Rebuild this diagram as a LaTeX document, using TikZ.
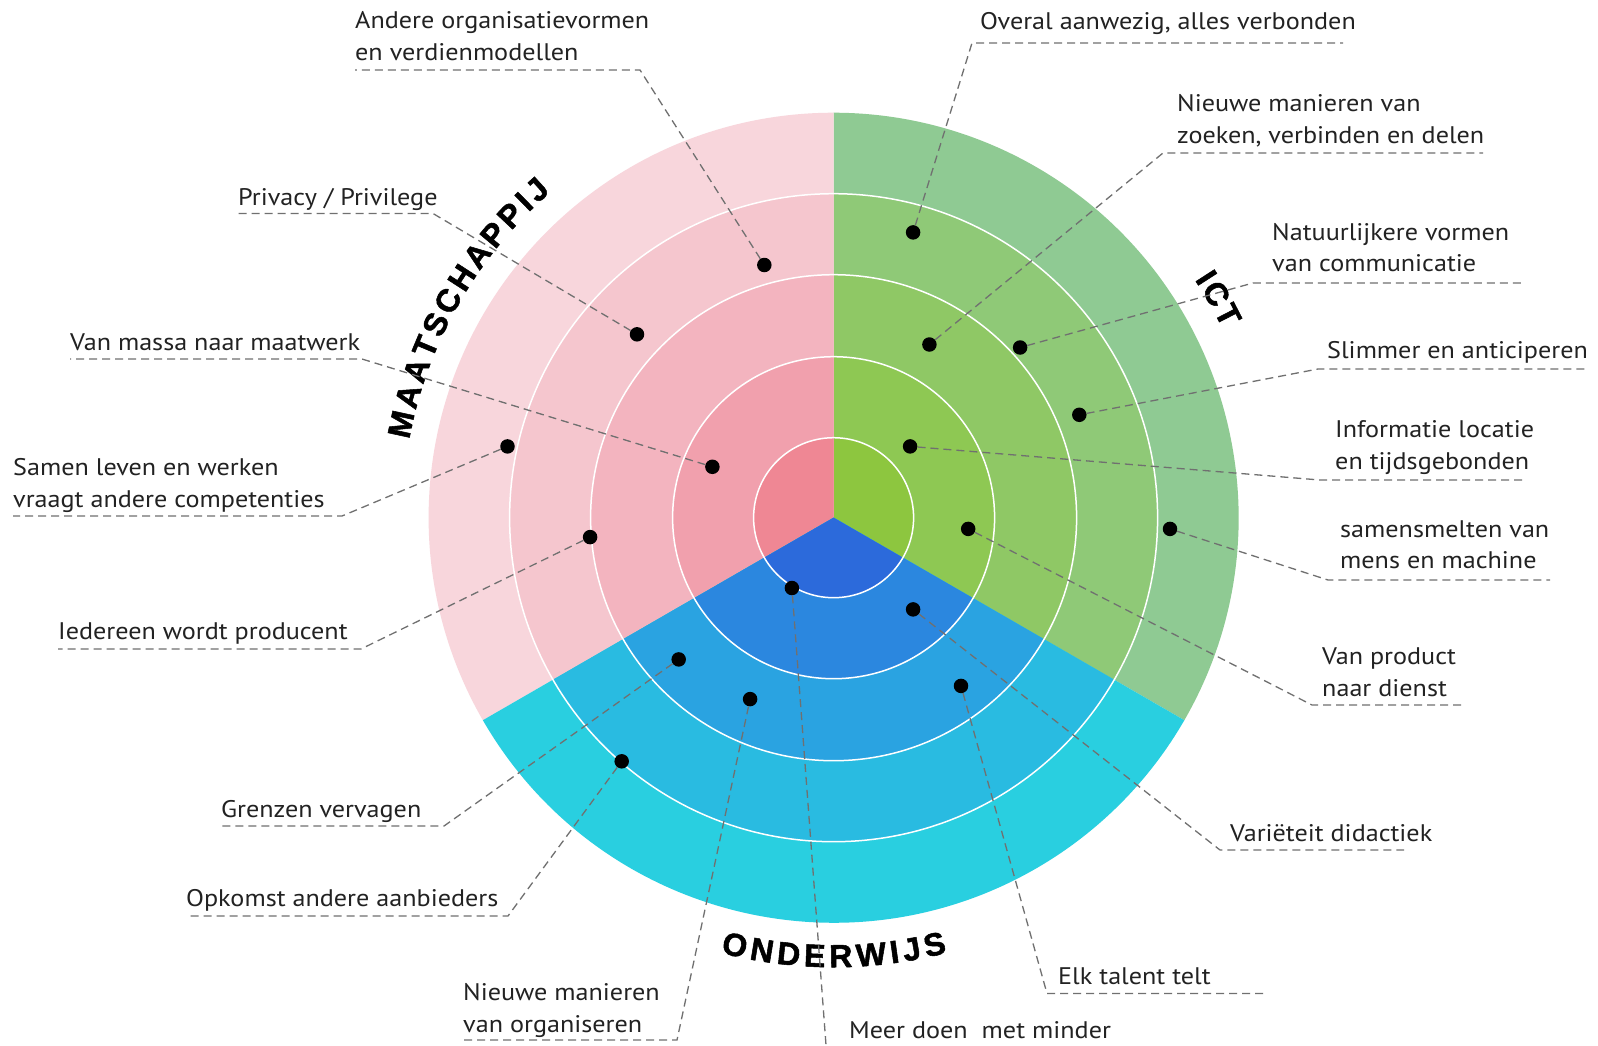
\documentclass[tikz,border=0pt]{standalone}
\usepackage{fontspec}
\setmainfont{PT Sans}[FakeStretch=1.09]
\newfontfamily\catfont{Liberation Sans}[BoldFeatures={FakeBold=1.6}]
\definecolor{p1}{HTML}{EF8794}
\definecolor{p2}{HTML}{F1A0AD}
\definecolor{p3}{HTML}{F3B4BF}
\definecolor{p4}{HTML}{F5C6CE}
\definecolor{p5}{HTML}{F8D6DC}
\definecolor{g1}{HTML}{8DC63F}
\definecolor{g2}{HTML}{8EC853}
\definecolor{g3}{HTML}{8FC865}
\definecolor{g4}{HTML}{8FC977}
\definecolor{g5}{HTML}{8FCA93}
\definecolor{b1}{HTML}{2C6ADB}
\definecolor{b2}{HTML}{2B87DF}
\definecolor{b3}{HTML}{2AA3E1}
\definecolor{b4}{HTML}{29BBE1}
\definecolor{b5}{HTML}{29CFE0}
\definecolor{txt}{HTML}{222222}
\definecolor{ldr}{HTML}{707070}
\begin{document}
\begin{tikzpicture}[x=1pt,y=1pt,
  lbl/.style={anchor=south west, inner sep=0pt, align=left, text=txt, font=\fontsize{24}{31.5}\selectfont},
  dot/.style={circle, fill=black, minimum size=14.5pt, inner sep=0pt},
  leader/.style={draw=ldr, line width=1.3pt, dash pattern=on 8pt off 5pt},
  ring/.style={draw=white, line width=1.5pt},
  cat/.style={font=\catfont\bfseries\fontsize{32}{32}\selectfont, inner sep=0pt,
    text height=23pt, text depth=0pt, anchor=center}]
\useasboundingbox (0,0) rectangle (1598,-1045);
\fill[white] (0,0) rectangle (1598,-1045);

\begin{scope}[shift={(833.6,-517.7)}]
  \foreach \a/\b/\c in {-30/90/g, 90/210/p, 210/330/b} {
    \foreach \r/\i in {405/5,324/4,243/3,161/2,80/1} {
      \fill[\c\i] (0,0) -- (\a:\r) arc[start angle=\a, end angle=\b, radius=\r] -- cycle;
    }
  }
  \foreach \r in {80,161,243,324} \draw[ring] (0,0) circle[radius=\r];
  % MAATSCHAPPIJ
  \foreach \l/\a [count=\n] in {M/167.8, A/164.06, A/160.54, T/157.25, S/154.07, C/150.66,
      H/147.14, A/143.63, P/140.22, P/136.92, I/134.40, J/132.11}
    \node[cat, rotate=\a-90] (ma\n) at (\a:443) {\l};
  % ICT
  \foreach \l/\a [count=\n] in {I/32.8, C/30.33, T/27.2}
    \node[cat, rotate=\a-90] (ict\n) at (\a:444) {\l};
  % ONDERWIJS
  \foreach \l/\a [count=\n] in {O/257.0, N/260.62, D/264.14, E/267.54, R/270.94,
      W/274.91, I/277.97, J/280.24, S/283.30}
    \node[cat, rotate=\a+90] (on\n) at (\a:438) {\l};
\end{scope}

% dots
\node[dot] (d1) at (764.3,-265.0) {};
\node[dot] (d2) at (637.0,-334.3) {};
\node[dot] (d3) at (712.4,-466.8) {};
\node[dot] (d4) at (507.5,-446.4) {};
\node[dot] (d5) at (590.1,-537.1) {};
\node[dot] (d6) at (678.7,-659.4) {};
\node[dot] (d7) at (621.7,-761.3) {};
\node[dot] (d8) at (750.1,-699.1) {};
\node[dot] (d9) at (791.9,-588.0) {};
\node[dot] (d10) at (913.1,-609.4) {};
\node[dot] (d11) at (961.0,-685.9) {};
\node[dot] (d12) at (968.2,-528.9) {};
\node[dot] (d13) at (1170.0,-528.9) {};
\node[dot] (d14) at (910.1,-446.4) {};
\node[dot] (d15) at (1079.3,-414.8) {};
\node[dot] (d16) at (1020.1,-347.5) {};
\node[dot] (d17) at (929.4,-344.5) {};
\node[dot] (d18) at (913.1,-232.4) {};

% labels
\node[lbl] (t1) at (355,-70) {Andere organisatievormen\\en verdienmodellen\strut};
\node[lbl] (t2) at (238,-215) {Privacy / Privilege\strut};
\node[lbl] (t3) at (70,-360) {Van massa naar maatwerk\strut};
\node[lbl] (t4) at (13,-517) {Samen leven en werken\\vraagt andere competenties\strut};
\node[lbl] (t5) at (58,-649.5) {Iedereen wordt producent\strut};
\node[lbl] (t6) at (221,-827) {Grenzen vervagen\strut};
\node[lbl] (t7) at (186,-916) {Opkomst andere aanbieders\strut};
\node[lbl] (t8) at (463,-1042) {Nieuwe manieren\\van organiseren\strut};
\node[lbl] (t9) at (849,-1048.5) {Meer doen\ \ met minder\strut};
\node[lbl] (t10) at (1230,-851) {Variëteit didactiek\strut};
\node[lbl] (t11) at (1058,-994.5) {Elk talent telt\strut};
\node[lbl] (t12) at (1322,-706) {Van product\\naar dienst\strut};
\node[lbl] (t13) at (1340,-578.5) {samensmelten van\\mens en machine\strut};
\node[lbl] (t14) at (1335,-479) {Informatie locatie\\en tijdsgebonden\strut};
\node[lbl] (t15) at (1327,-368) {Slimmer en anticiperen\strut};
\node[lbl] (t16) at (1272,-281.5) {Natuurlijkere vormen\\van communicatie\strut};
\node[lbl] (t17) at (1177,-153) {Nieuwe manieren van\\zoeken, verbinden en delen\strut};
\node[lbl] (t18) at (980,-39) {Overal aanwezig, alles verbonden\strut};

% leader corners and ends
\coordinate (k1) at (640,-70);   \coordinate (e1) at (355,-70);
\coordinate (k2) at (433,-213.5); \coordinate (e2) at (238,-213.5);
\coordinate (k3) at (362,-359);  \coordinate (e3) at (70,-359);
\coordinate (k4) at (342,-516);  \coordinate (e4) at (13,-516);
\coordinate (k5) at (361,-649);  \coordinate (e5) at (58,-649);
\coordinate (k6) at (444,-826);  \coordinate (e6) at (221,-826);
\coordinate (k7) at (508,-916);  \coordinate (e7) at (186,-916);
\coordinate (k8) at (677,-1040); \coordinate (e8) at (463,-1040);
\coordinate (k9) at (826,-1045);
\coordinate (k10) at (1220,-850); \coordinate (e10) at (1404,-850);
\coordinate (k11) at (1047,-993.5); \coordinate (e11) at (1266,-993.5);
\coordinate (k12) at (1312,-705); \coordinate (e12) at (1462,-705);
\coordinate (k13) at (1328,-580); \coordinate (e13) at (1550,-580);
\coordinate (k14) at (1320,-480); \coordinate (e14) at (1527,-480);
\coordinate (k15) at (1318,-369); \coordinate (e15) at (1585,-369);
\coordinate (k16) at (1253,-283); \coordinate (e16) at (1523,-283);
\coordinate (k17) at (1163,-153); \coordinate (e17) at (1483,-153);
\coordinate (k18) at (972,-43);   \coordinate (e18) at (1343,-43);

\foreach \i in {1,...,8,10,11,...,18} \draw[leader] (d\i) -- (k\i) -- (e\i);
\draw[leader] (d9) -- (k9);
\end{tikzpicture}
\end{document}
